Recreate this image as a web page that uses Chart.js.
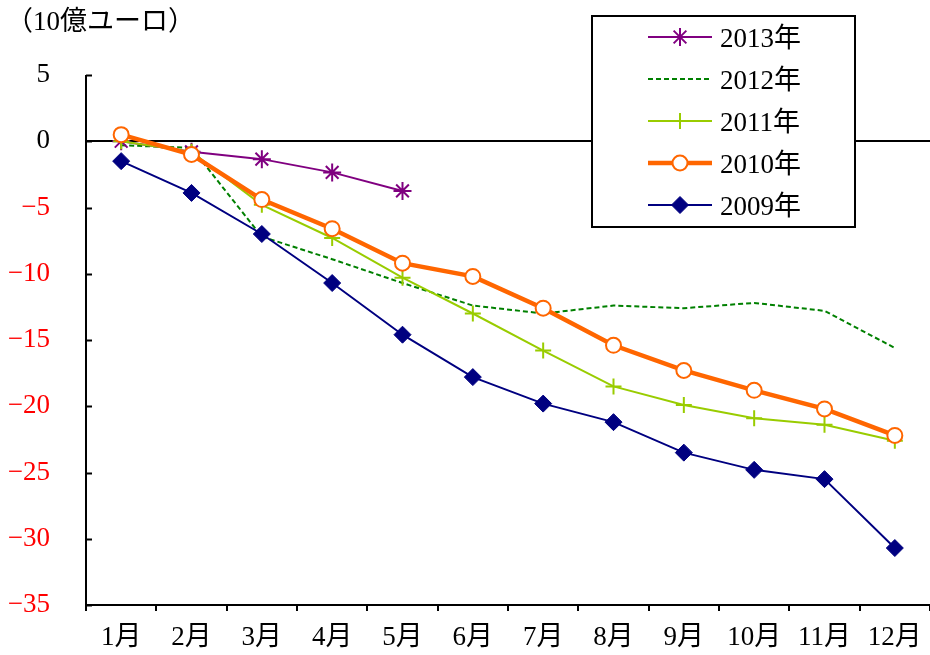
<!DOCTYPE html>
<html>
<head>
<meta charset="utf-8">
<script src="https://cdn.jsdelivr.net/npm/chart.js@4/dist/chart.umd.min.js"></script>
<style>
  html, body { margin: 0; padding: 0; background: #fff; overflow: hidden; }
  canvas { display: block; }
</style>
</head>
<body>
<canvas id="tradeChart" width="930" height="655"></canvas>
<script>
// month labels and cumulative balance (10億ユーロ)
const months = ['1月', '2月', '3月', '4月', '5月', '6月', '7月', '8月', '9月', '10月', '11月', '12月'];
const yTicks = [5, 0, -5, -10, -15, -20, -25, -30, -35];
const y2013 = [0.0, -0.8, -1.35, -2.35, -3.75];
const y2012 = [-0.3, -0.5, -7.2, -8.9, -10.7, -12.4, -13.0, -12.4, -12.6, -12.2, -12.8, -15.6];
const y2011 = [0.0, -0.8, -4.8, -7.3, -10.3, -13.0, -15.8, -18.5, -19.9, -20.9, -21.4, -22.6];
const y2010 = [0.5, -1.0, -4.4, -6.6, -9.2, -10.2, -12.6, -15.4, -17.3, -18.8, -20.2, -22.2];
const y2009 = [-1.5, -3.9, -7.0, -10.7, -14.6, -17.8, -19.8, -21.2, -23.5, -24.8, -25.5, -30.7];

const FONT = "'Liberation Serif', 'Noto Sans CJK JP', serif";
const FONT_SIZE = 27;

// title, inward y ticks and boxed legend
const decorPlugin = {
    id: 'decor',
    afterDatasetsDraw(chart) {
        const ctx = chart.ctx;
        const area = chart.chartArea;
        const yScale = chart.scales.y;
        ctx.save();
        ctx.strokeStyle = '#000';
        ctx.lineWidth = 2;
        ctx.beginPath();
        ctx.moveTo(area.left, area.top);
        ctx.lineTo(area.left, area.bottom);
        ctx.stroke();
        yScale.ticks.forEach(t => {
            const py = Math.round(yScale.getPixelForValue(t.value)) + 0.5;
            ctx.beginPath();
            ctx.moveTo(area.left, py);
            ctx.lineTo(area.left + 6, py);
            ctx.stroke();
        });

        // legend box
        const bx = 592, by = 16, bw = 263, bh = 211;
        ctx.fillStyle = '#fff';
        ctx.fillRect(bx, by, bw, bh);
        ctx.strokeStyle = '#000';
        ctx.lineWidth = 2;
        ctx.strokeRect(bx, by, bw, bh);
        chart.data.datasets.forEach((ds, i) => {
            const cy = 37 + i * 42;
            ctx.save();
            ctx.strokeStyle = ds.borderColor;
            ctx.lineWidth = ds.borderWidth;
            ctx.setLineDash(ds.borderDash || []);
            ctx.beginPath();
            ctx.moveTo(648, cy);
            ctx.lineTo(712, cy);
            ctx.stroke();
            ctx.restore();
            if (ds.pointRadius > 0) {
                ctx.save();
                ctx.fillStyle = ds.pointBackgroundColor;
                ctx.strokeStyle = ds.pointBorderColor;
                ctx.lineWidth = ds.pointBorderWidth;
                Chart.helpers.drawPoint(ctx, {
                    pointStyle: ds.pointStyle,
                    radius: ds.pointRadius,
                    borderWidth: ds.pointBorderWidth
                }, 680, cy);
                ctx.restore();
            }
            ctx.fillStyle = '#000';
            ctx.font = FONT_SIZE + 'px ' + FONT;
            ctx.textAlign = 'left';
            ctx.textBaseline = 'middle';
            ctx.fillText(ds.label, 720, cy + 3);
        });

        ctx.fillStyle = '#000';
        ctx.font = FONT_SIZE + 'px ' + FONT;
        ctx.textAlign = 'left';
        ctx.textBaseline = 'middle';
        ctx.fillText('（10億ユーロ）', 6, 23);
        ctx.restore();
    }
};

const ctx = document.getElementById('tradeChart').getContext('2d');
new Chart(ctx, {
    type: 'line',
    data: {
        labels: months,
        datasets: [
            {
                label: '2013年', data: y2013, order: 3,
                borderColor: '#800080', borderWidth: 2,
                pointStyle: 'star', pointRadius: 9, pointBorderWidth: 2,
                pointBorderColor: '#800080', pointBackgroundColor: '#800080'
            },
            {
                label: '2012年', data: y2012, order: 4,
                borderColor: '#008000', borderWidth: 2, borderDash: [5, 3],
                pointRadius: 0, pointBorderWidth: 0,
                pointBorderColor: '#008000', pointBackgroundColor: '#008000'
            },
            {
                label: '2011年', data: y2011, order: 2,
                borderColor: '#99CC00', borderWidth: 2,
                pointStyle: 'cross', pointRadius: 8, pointBorderWidth: 2,
                pointBorderColor: '#99CC00', pointBackgroundColor: '#99CC00'
            },
            {
                label: '2010年', data: y2010, order: 0,
                borderColor: '#FF6600', borderWidth: 4.5,
                pointStyle: 'circle', pointRadius: 7.5, pointBorderWidth: 2,
                pointBorderColor: '#FF6600', pointBackgroundColor: '#ffffff'
            },
            {
                label: '2009年', data: y2009, order: 1,
                borderColor: '#000080', borderWidth: 2,
                pointStyle: 'rectRot', pointRadius: 8.5, pointBorderWidth: 1,
                pointBorderColor: '#000080', pointBackgroundColor: '#000080'
            }
        ]
    },
    options: {
        responsive: false,
        animation: false,
        layout: { autoPadding: false, padding: { top: 75, right: 0, left: 0, bottom: 0 } },
        plugins: {
            legend: { display: false },
            tooltip: { enabled: false }
        },
        elements: { line: { tension: 0 } },
        scales: {
            x: {
                offset: true,
                grid: {
                    offset: true, drawOnChartArea: false, drawTicks: true,
                    tickLength: 6, color: '#000', lineWidth: 2
                },
                border: { display: true, color: '#000', width: 2 },
                ticks: {
                    color: '#000', padding: 11, maxRotation: 0, autoSkip: false,
                    font: { family: FONT, size: FONT_SIZE }
                },
                afterFit(scale) {
                    scale.height = 50;
                    scale.paddingLeft = 0;
                    scale.paddingRight = 0;
                }
            },
            y: {
                min: -35, max: 5,
                afterBuildTicks(scale) { scale.ticks = yTicks.map(v => ({ value: v })); },
                grid: {
                    drawTicks: false,
                    color: c => (c.tick && c.tick.value === 0 ? '#000' : 'rgba(0,0,0,0)'),
                    lineWidth: 2
                },
                border: { display: false },
                ticks: {
                    padding: 36,
                    color: c => (c.tick.value < 0 ? '#FF0000' : '#000'),
                    font: { family: FONT, size: FONT_SIZE },
                    callback: v => (v < 0 ? '\u2212' + Math.abs(v) : String(v))
                },
                afterFit(scale) {
                    scale.width = 86;
                    scale.paddingTop = 0;
                    scale.paddingBottom = 0;
                }
            }
        }
    },
    plugins: [decorPlugin]
});
</script>
</body>
</html>
